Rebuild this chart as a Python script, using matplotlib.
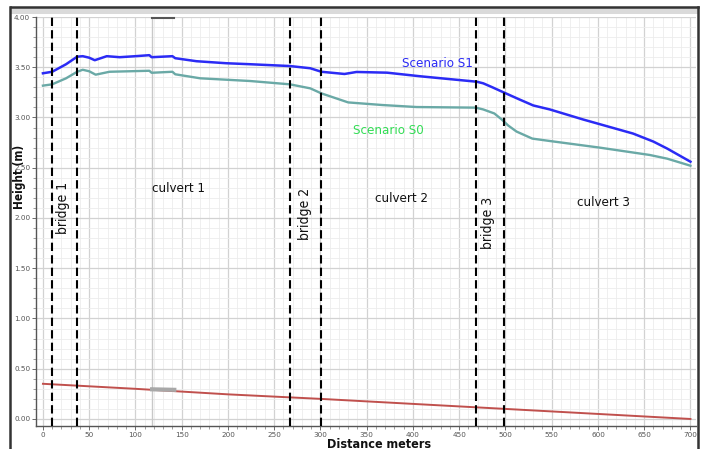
import matplotlib
matplotlib.use("Agg")
import matplotlib.pyplot as plt
from matplotlib.ticker import MultipleLocator, FormatStrFormatter
from matplotlib.lines import Line2D
from matplotlib.patches import Rectangle

# ---------------- data ----------------
s1_x = [0, 10, 25, 37, 43, 50, 56, 69, 83, 100, 115, 117.5, 140, 143, 166, 198, 224,
        267, 289, 301, 326, 339, 372, 408, 469, 476, 486, 498, 515, 530, 548, 584,
        638, 660, 675, 700]
s1_y = [3.44, 3.455, 3.53, 3.605, 3.61, 3.595, 3.57, 3.61, 3.60, 3.61, 3.62, 3.60, 3.61,
        3.59, 3.56, 3.54, 3.53, 3.512, 3.49, 3.455, 3.433, 3.453, 3.446, 3.41, 3.356,
        3.34, 3.30, 3.25, 3.18, 3.12, 3.08, 2.98, 2.84, 2.76, 2.69, 2.56]

s0_x = [0, 10, 25, 37, 43, 50, 57, 72, 115, 117.5, 140, 143, 170, 224, 267, 289, 301,
        330, 367, 404, 468, 476, 488, 496, 503, 512, 529, 548, 602, 656, 675, 700]
s0_y = [3.317, 3.33, 3.39, 3.455, 3.475, 3.46, 3.426, 3.455, 3.465, 3.445, 3.455, 3.43,
        3.39, 3.363, 3.33, 3.29, 3.24, 3.15, 3.124, 3.104, 3.098, 3.08, 3.04, 2.98,
        2.92, 2.86, 2.79, 2.766, 2.70, 2.627, 2.59, 2.52]

bed_x = [0, 100, 200, 300, 400, 500, 600, 700]
bed_y = [0.35, 0.30, 0.245, 0.20, 0.15, 0.10, 0.05, 0.0]

structure_x = [10, 37, 267, 301, 468, 498]

culvert_labels = ["culvert 1", "culvert 2", "culvert 3"]
culvert_pos = [(147, 2.29), (388, 2.19), (606, 2.15)]
bridge_labels = ["bridge 1", "bridge 2", "bridge 3"]
bridge_pos = [(22, 2.10), (283, 2.04), (481, 1.95)]

x_ticks = list(range(0, 701, 50))
y_ticks = [0.0, 0.5, 1.0, 1.5, 2.0, 2.5, 3.0, 3.5, 4.0]

# ---------------- figure ----------------
W, H = 702, 449
fig = plt.figure(figsize=(W / 100, H / 100), dpi=100)
ax = fig.add_axes([36 / W, 1 - 426 / H, (696 - 36) / W, (426 - 17) / H])

ax.set_xlim(-7.5, 706)
ax.set_ylim(-0.07, 4.0)

ax.xaxis.set_major_locator(MultipleLocator(50))
ax.xaxis.set_minor_locator(MultipleLocator(10))
ax.yaxis.set_major_locator(MultipleLocator(0.5))
ax.yaxis.set_minor_locator(MultipleLocator(0.1))
ax.set_xticks(x_ticks)
ax.set_yticks(y_ticks)
ax.yaxis.set_major_formatter(FormatStrFormatter("%.2f"))

ax.grid(which="major", color="#d2d2d2", lw=0.9)
ax.grid(which="minor", color="#ececec", lw=0.6)
ax.set_axisbelow(True)

for s in ["top", "right"]:
    ax.spines[s].set_visible(False)
for s in ["left", "bottom"]:
    ax.spines[s].set_color("#555555")
    ax.spines[s].set_linewidth(1.0)

ax.tick_params(which="major", length=3, width=0.6, color="#555555",
               labelsize=5.2, labelcolor="#555555")
ax.tick_params(axis="x", which="major", pad=1.2)
ax.tick_params(axis="y", which="major", pad=1.2)
ax.tick_params(which="minor", length=2, width=0.5, color="#777777")

# artifacts in the original screenshot
ax.axvline(118, color="#c8c8c8", lw=1.0, zorder=1)
ax.plot([118, 142], [3.995, 3.995], color="#555555", lw=1.5, zorder=2, clip_on=False)

# lines
ax.plot(bed_x, bed_y, color="#c0504d", lw=1.4, zorder=3)
ax.plot([118, 142], [0.295, 0.29], color="#a8a8a8", lw=3, zorder=3)
ax.plot(s0_x, s0_y, color="#6aa9a6", lw=1.7, zorder=4)
ax.plot(s1_x, s1_y, color="#2b2bf5", lw=1.8, zorder=5)

for xv in structure_x:
    ax.axvline(xv, color="black", lw=1.5, ls=(0, (4, 2)), zorder=6)

txt_font = "DejaVu Sans"
kw = dict(family=txt_font, fontstretch="condensed")
for lbl, (xx, yy) in zip(culvert_labels, culvert_pos):
    ax.text(xx, yy, lbl, ha="center", va="center", fontsize=9.5, color="#111111", **kw)
for lbl, (xx, yy) in zip(bridge_labels, bridge_pos):
    ax.text(xx, yy, lbl, ha="center", va="center", fontsize=10, color="#111111",
            rotation=90, **kw)

ax.text(426, 3.54, "Scenario S1", ha="center", va="center", fontsize=9.5,
        color="#2b2bf5", **kw)
ax.text(373, 2.866, "Scenario S0", ha="center", va="center", fontsize=9.5,
        color="#33dd55", **kw)

fig.text(19.5 / W, 1 - 176.7 / H, "Height (m)", rotation=90, ha="center", va="center",
         fontsize=8.5, color="#111111", fontweight="bold", **kw)
fig.text(379 / W, 1 - 444 / H, "Distance meters", ha="center", va="center",
         fontsize=9, color="#111111", fontweight="bold", **kw)

# outer screenshot frame
fig.patches.append(Rectangle((11 / W, 1 - 13.5 / H), (698 - 11) / W, 6.5 / H,
                             transform=fig.transFigure, facecolor="#dadada",
                             edgecolor="none", zorder=0))
fig.lines.append(Line2D([11 / W, 698 / W], [1 - 6.5 / H, 1 - 6.5 / H],
                        transform=fig.transFigure, color="#333333", lw=1.8))
fig.lines.append(Line2D([10 / W, 10 / W], [0, 1 - 6.5 / H],
                        transform=fig.transFigure, color="#333333", lw=1.8))
fig.lines.append(Line2D([698 / W, 698 / W], [0, 1 - 6.5 / H],
                        transform=fig.transFigure, color="#333333", lw=1.8))

fig.savefig("out.png", dpi=100)
